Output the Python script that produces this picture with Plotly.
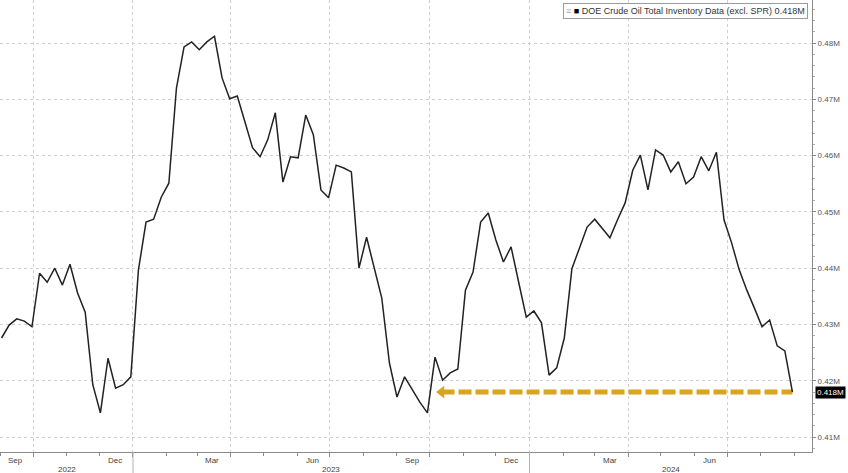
import pandas as pd
import plotly.graph_objects as go

# ---- data (weekly) ----
start_date = "2022-09-02"
inventory = [
    0.4276, 0.4299, 0.4310, 0.4306, 0.4296, 0.4391, 0.4375, 0.4400, 0.4370, 0.4407,
    0.4356, 0.4322, 0.4193, 0.4143, 0.4240, 0.4187, 0.4193, 0.4207, 0.4397, 0.4482,
    0.4487, 0.4526, 0.4551, 0.4720, 0.4793, 0.4802, 0.4788, 0.4802, 0.4812, 0.4738,
    0.4701, 0.4706, 0.4660, 0.4614, 0.4598, 0.4628, 0.4676, 0.4553, 0.4598, 0.4596,
    0.4672, 0.4637, 0.4539, 0.4525, 0.4583, 0.4578, 0.4571, 0.4400, 0.4455, 0.4402,
    0.4347, 0.4232, 0.4171, 0.4207, 0.4184, 0.4162, 0.4143, 0.4242, 0.4201, 0.4214,
    0.4221, 0.4361, 0.4393, 0.4482, 0.4498, 0.4450, 0.4411, 0.4438, 0.4375, 0.4313,
    0.4324, 0.4303, 0.4210, 0.4223, 0.4276, 0.4399, 0.4436, 0.4473, 0.4487, 0.4471,
    0.4454, 0.4486, 0.4516, 0.4574, 0.4601, 0.4539, 0.4610, 0.4601, 0.4571, 0.4589,
    0.4550, 0.4562, 0.4598, 0.4573, 0.4606, 0.4486, 0.4445, 0.4397, 0.4361, 0.4329,
    0.4296, 0.4308, 0.4262, 0.4253, 0.4180,
]
dates = pd.date_range(start_date, periods=len(inventory), freq="7D")

series_name = "DOE Crude Oil Total Inventory Data (excl. SPR)"
last_label = "0.418M"
arrow_start = "2023-10-12"

y_ticks = [0.41, 0.42, 0.43, 0.44, 0.45, 0.46, 0.47, 0.48]
y_ticktext = ["0.41M", "0.42M", "0.43M", "0.44M", "0.45M", "0.46M", "0.47M", "0.48M"]

month_labels = ["Sep", "Dec", "Mar", "Jun", "Sep", "Dec", "Mar", "Jun"]
month_label_dates = ["2022-09-15", "2022-12-15", "2023-03-15", "2023-06-15",
                     "2023-09-15", "2023-12-15", "2024-03-15", "2024-06-15"]
year_labels = ["2022", "2023", "2024"]
year_starts = ["2023-01-01", "2024-01-01"]

x_range = ["2022-08-31 14:00", "2024-09-17"]
y_range = [0.40735, 0.48764]

FONT = "Liberation Sans"
GRID = "#cfcfcf"
AXIS = "#8a8a8a"
GOLD = "#D9A41E"

fig = go.Figure()

# dashed reference arrow
fig.add_trace(go.Scatter(
    x=[arrow_start, dates[-1]], y=[inventory[-1], inventory[-1]],
    mode="lines", line=dict(color=GOLD, width=5, dash="13px,4px"),
    hoverinfo="skip", showlegend=False))
fig.add_trace(go.Scatter(
    x=[arrow_start], y=[inventory[-1]], mode="markers",
    marker=dict(symbol="triangle-left", size=11, color=GOLD),
    hoverinfo="skip", showlegend=False))

# main line
fig.add_trace(go.Scatter(
    x=dates, y=inventory, mode="lines", name=series_name,
    line=dict(color="#222222", width=1.5), showlegend=False))

annotations = []
for lab, d in zip(month_labels, month_label_dates):
    annotations.append(dict(x=d, y=0, xref="x", yref="paper", yanchor="top", yshift=-2,
                            text=lab, showarrow=False,
                            font=dict(family=FONT, size=8, color="#444")))

# year labels centred in their visible spans
bounds = [pd.Timestamp(x_range[0])] + [pd.Timestamp(s) for s in year_starts] + [pd.Timestamp(x_range[1])]
for i, lab in enumerate(year_labels):
    mid = bounds[i] + (bounds[i + 1] - bounds[i]) / 2
    annotations.append(dict(x=mid, y=0, xref="x", yref="paper", yanchor="top", yshift=-11,
                            text=lab, showarrow=False,
                            font=dict(family=FONT, size=8, color="#444")))

# legend box
annotations.append(dict(
    x=808 / 812, y=1, xref="paper", yref="paper", xanchor="right", yanchor="top", yshift=-3,
    text="<span style='color:#aaaaaa'>≡</span> <span style='color:#000'>■</span> "
         + series_name + " " + last_label,
    showarrow=False, font=dict(family=FONT, size=9, color="#333"),
    bgcolor="white", bordercolor="#9a9a9a", borderwidth=1, borderpad=2))

# last value tag
annotations.append(dict(
    x=1, y=inventory[-1], xref="paper", yref="y", xanchor="left", xshift=3,
    text=last_label, showarrow=False, font=dict(family=FONT, size=8, color="white"),
    bgcolor="black", borderpad=1))

shapes = []
for ys in year_starts:
    shapes.append(dict(type="line", xref="x", yref="paper", x0=ys, x1=ys, y0=0, y1=-21 / 452,
                       line=dict(color="#b0b0b0", width=1)))

fig.update_layout(
    width=848, height=473,
    margin=dict(l=0, r=36, t=0, b=21, autoexpand=False),
    paper_bgcolor="white", plot_bgcolor="white",
    annotations=annotations, shapes=shapes,
    xaxis=dict(
        range=x_range, type="date",
        tick0="2022-10-01", dtick="M3",
        showticklabels=False, ticks="outside", ticklen=4, tickcolor=AXIS,
        showgrid=True, gridcolor=GRID, griddash="dot", gridwidth=1,
        minor=dict(tick0="2022-09-01", dtick="M1", ticks="outside", ticklen=3,
                   tickcolor=AXIS, showgrid=False),
        showline=True, linecolor=AXIS, linewidth=1,
        zeroline=False, automargin=False,
    ),
    yaxis=dict(
        range=y_range, side="right",
        tickvals=y_ticks, ticktext=y_ticktext,
        ticks="outside", ticklen=3, tickcolor=AXIS,
        tickfont=dict(family=FONT, size=8, color="#555"),
        showgrid=True, gridcolor=GRID, griddash="dot", gridwidth=1,
        minor=dict(dtick=0.002, tick0=0.40, ticks="outside", ticklen=2,
                   tickcolor="#b0b0b0", showgrid=False),
        showline=True, linecolor=AXIS, linewidth=1,
        zeroline=False, automargin=False,
    ),
)

fig.write_html("out.html", config={"displayModeBar": False},
               post_script="document.body.style.margin='0px';")
